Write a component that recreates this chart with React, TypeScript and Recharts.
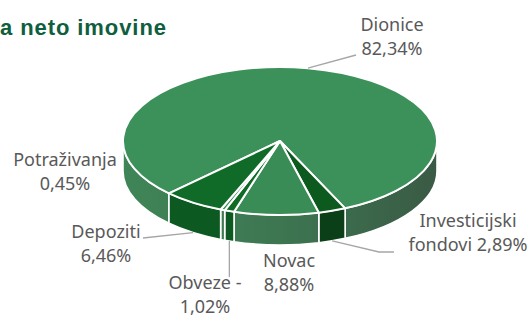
import React from 'react';
import { PieChart, Pie } from 'recharts';

const categories = ['Dionice', 'Investicijski fondovi', 'Novac', 'Obveze', 'Potraživanja', 'Depoziti'];
const shares = [82.34, 2.89, 8.88, 1.02, 0.45, 6.46];
const labelLine1 = ['Dionice', 'Investicijski', 'Novac', 'Obveze -', 'Potraživanja', 'Depoziti'];
const labelLine2 = ['82,34%', 'fondovi 2,89%', '8,88%', '1,02%', '0,45%', '6,46%'];
const titleText = 'a neto imovine';

const data = categories.map((name, i) => ({ name, value: shares[i] }));

const topColors = ['#3c915a', '#0c5a1e', '#3a8c56', '#0f6a26', '#3a8c56', '#0f6b27'];
const sideColors = ['url(#sideGrad)', '#0a3f18', 'url(#sideGrad)', '#0c5a22', 'url(#sideGrad)', '#0c5a22'];

const CX = 280;
const CY = 141;
const RX = 157;
const RATIO = 74 / 157;
const DEPTH = 30;

// label layout: text center, first baseline, leader line
const labelLayout: Record<number, { x: number; y: number; lead?: 'top' | 'bottom'; path?: number[][]; vertical?: number }> = {
  0: { x: 392, y: 31, lead: 'top', path: [[356, 55]] },
  1: { x: 468, y: 227, lead: 'bottom', path: [[379, 252], [394, 252]] },
  2: { x: 289, y: 267 },
  3: { x: 205, y: 289, lead: 'bottom', vertical: 277 },
  4: { x: 65, y: 166 },
  5: { x: 106, y: 238, lead: 'bottom', path: [[143, 238]] },
};

function pt(cx: number, cy: number, rx: number, ry: number, a: number) {
  const r = (a * Math.PI) / 180;
  return [cx + rx * Math.cos(r), cy - ry * Math.sin(r)];
}

const renderSlice = (props: any) => {
  const { cx, cy, outerRadius, startAngle, endAngle, index } = props;
  const rx = outerRadius;
  const ry = outerRadius * RATIO;
  const hi = Math.max(startAngle, endAngle);
  const lo = Math.min(startAngle, endAngle);
  const sides: number[][] = [];
  for (let k = -2; k <= 1; k++) {
    const a0 = 180 + 360 * k;
    const a1 = 360 + 360 * k;
    const s = Math.max(lo, a0);
    const e = Math.min(hi, a1);
    if (e > s) sides.push([s, e]);
  }
  const p1 = pt(cx, cy, rx, ry, hi);
  const p2 = pt(cx, cy, rx, ry, lo);
  const large = hi - lo > 180 ? 1 : 0;
  const topPath = `M${cx},${cy} L${p1[0]},${p1[1]} A${rx},${ry} 0 ${large} 1 ${p2[0]},${p2[1]} Z`;
  return (
    <g key={`slice-${index}`}>
      {index === 0 && (
        <defs>
          <linearGradient id="sideGrad" gradientUnits="userSpaceOnUse" x1={cx - rx} y1={0} x2={cx + rx} y2={0}>
            <stop offset="0%" stopColor="#3f8557" />
            <stop offset="50%" stopColor="#3d7651" />
            <stop offset="100%" stopColor="#3a5a45" />
          </linearGradient>
        </defs>
      )}
      {sides.map(([s, e], j) => {
        const a = pt(cx, cy, rx, ry, e);
        const b = pt(cx, cy, rx, ry, s);
        const d = `M${a[0]},${a[1]} A${rx},${ry} 0 0 1 ${b[0]},${b[1]} L${b[0]},${b[1] + DEPTH} A${rx},${ry} 0 0 0 ${a[0]},${a[1] + DEPTH} Z`;
        return <path key={j} d={d} fill={sideColors[index]} stroke="#ffffff" strokeWidth={1.6} strokeLinejoin="round" />;
      })}
      <path d={topPath} fill={topColors[index]} stroke="#ffffff" strokeWidth={2} strokeLinejoin="round" />
    </g>
  );
};

const renderLabel = (props: any) => {
  const { cx, cy, outerRadius, midAngle, index } = props;
  const rx = outerRadius;
  const ry = outerRadius * RATIO;
  const cfg = labelLayout[index];
  let line = null;
  if (cfg.lead) {
    const p = pt(cx, cy, rx, ry, midAngle);
    const start = [p[0], p[1] + (cfg.lead === 'bottom' ? DEPTH : 0)];
    const pts = cfg.vertical !== undefined ? [start, [start[0], cfg.vertical]] : [start, ...(cfg.path || [])];
    line = <polyline points={pts.map((q) => q.join(',')).join(' ')} fill="none" stroke="#a6a6a6" strokeWidth={1.3} />;
  }
  return (
    <g key={`lab-${index}`}>
      {line}
      <text x={cfg.x} y={cfg.y} textAnchor="middle" fontFamily="Noto Sans" fontSize={18} fill="#595959">
        <tspan x={cfg.x} dy={0}>{labelLine1[index]}</tspan>
        <tspan x={cfg.x} dy={24}>{labelLine2[index]}</tspan>
      </text>
    </g>
  );
};

export default function App() {
  return (
    <div style={{ position: 'absolute', left: 0, top: 0, width: 532, height: 318, background: '#ffffff' }}>
      <PieChart width={532} height={318} margin={{ top: 0, right: 0, bottom: 0, left: 0 }}>
        <text x={0} y={35} fontFamily="Liberation Sans" fontWeight="bold" fontSize={22} fill="#0f5e3e" textLength={166}>
          {titleText}
        </text>
        <Pie
          data={data}
          dataKey="value"
          nameKey="name"
          cx={CX}
          cy={CY}
          innerRadius={0}
          outerRadius={RX}
          startAngle={225}
          endAngle={-135}
          fill="none"
          stroke="none"
          label={renderSlice}
          labelLine={false}
          isAnimationActive={false}
          legendType="none"
        />
        <Pie
          data={data}
          dataKey="value"
          nameKey="name"
          cx={CX}
          cy={CY}
          innerRadius={0}
          outerRadius={RX}
          startAngle={225}
          endAngle={-135}
          fill="none"
          stroke="none"
          label={renderLabel}
          labelLine={false}
          isAnimationActive={false}
          legendType="none"
        />
      </PieChart>
    </div>
  );
}
